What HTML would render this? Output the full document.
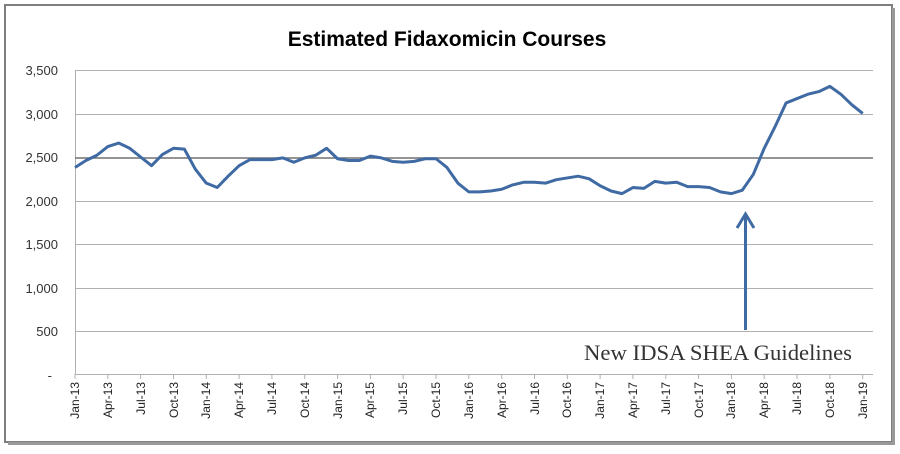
<!DOCTYPE html>
<html><head><meta charset="utf-8"><style>
body{margin:0;background:#fff;}
svg{display:block;}
</style></head><body>
<svg width="900" height="454" xmlns="http://www.w3.org/2000/svg">
<rect x="5" y="5" width="887" height="437" fill="#fff" stroke="#7f7f7f" stroke-width="2"/>
<rect x="892" y="8" width="3" height="436" fill="#999"/>
<rect x="8" y="442" width="887" height="3" fill="#999"/>
<text x="447" y="46" text-anchor="middle" font-family="Liberation Sans, sans-serif" font-weight="bold" font-size="21" fill="#000">Estimated Fidaxomicin Courses</text>
<g stroke="#b0b0b0" stroke-width="1">
<line x1="75" y1="70.5" x2="873" y2="70.5"/>
<line x1="75" y1="114.5" x2="873" y2="114.5"/>
<line x1="75" y1="201.5" x2="873" y2="201.5"/>
<line x1="75" y1="244.5" x2="873" y2="244.5"/>
<line x1="75" y1="288.5" x2="873" y2="288.5"/>
<line x1="75" y1="331.5" x2="873" y2="331.5"/>
<line x1="75.5" y1="70" x2="75.5" y2="375"/>
<line x1="75" y1="374.5" x2="873" y2="374.5"/>
</g>
<line x1="75" y1="158" x2="873" y2="158" stroke="#707070" stroke-width="1.5"/>
<g font-family="Liberation Sans, sans-serif" font-size="13" fill="#333" text-anchor="end">
<text x="58" y="75">3,500</text><text x="58" y="119">3,000</text><text x="58" y="162">2,500</text>
<text x="58" y="206">2,000</text><text x="58" y="249">1,500</text><text x="58" y="293">1,000</text>
<text x="58" y="336">500</text><text x="52" y="380">-</text>
</g>
<g stroke="#b0b0b0">
<line x1="75" y1="374" x2="75" y2="379"/><line x1="107.8" y1="374" x2="107.8" y2="379"/><line x1="140.6" y1="374" x2="140.6" y2="379"/><line x1="173.5" y1="374" x2="173.5" y2="379"/><line x1="206.3" y1="374" x2="206.3" y2="379"/><line x1="239.1" y1="374" x2="239.1" y2="379"/><line x1="271.9" y1="374" x2="271.9" y2="379"/><line x1="304.7" y1="374" x2="304.7" y2="379"/><line x1="337.6" y1="374" x2="337.6" y2="379"/><line x1="370.4" y1="374" x2="370.4" y2="379"/><line x1="403.2" y1="374" x2="403.2" y2="379"/><line x1="436" y1="374" x2="436" y2="379"/><line x1="468.8" y1="374" x2="468.8" y2="379"/><line x1="501.7" y1="374" x2="501.7" y2="379"/><line x1="534.5" y1="374" x2="534.5" y2="379"/><line x1="567.3" y1="374" x2="567.3" y2="379"/><line x1="600.1" y1="374" x2="600.1" y2="379"/><line x1="632.9" y1="374" x2="632.9" y2="379"/><line x1="665.8" y1="374" x2="665.8" y2="379"/><line x1="698.6" y1="374" x2="698.6" y2="379"/><line x1="731.4" y1="374" x2="731.4" y2="379"/><line x1="764.2" y1="374" x2="764.2" y2="379"/><line x1="797" y1="374" x2="797" y2="379"/><line x1="829.9" y1="374" x2="829.9" y2="379"/><line x1="862.7" y1="374" x2="862.7" y2="379"/>
</g>
<g font-family="Liberation Sans, sans-serif" font-size="12" fill="#222" text-anchor="end">
<text transform="translate(79,382) rotate(-90)">Jan-13</text>
<text transform="translate(112,382) rotate(-90)">Apr-13</text>
<text transform="translate(145,382) rotate(-90)">Jul-13</text>
<text transform="translate(178,382) rotate(-90)">Oct-13</text>
<text transform="translate(210,382) rotate(-90)">Jan-14</text>
<text transform="translate(243,382) rotate(-90)">Apr-14</text>
<text transform="translate(276,382) rotate(-90)">Jul-14</text>
<text transform="translate(309,382) rotate(-90)">Oct-14</text>
<text transform="translate(342,382) rotate(-90)">Jan-15</text>
<text transform="translate(374,382) rotate(-90)">Apr-15</text>
<text transform="translate(407,382) rotate(-90)">Jul-15</text>
<text transform="translate(440,382) rotate(-90)">Oct-15</text>
<text transform="translate(473,382) rotate(-90)">Jan-16</text>
<text transform="translate(506,382) rotate(-90)">Apr-16</text>
<text transform="translate(539,382) rotate(-90)">Jul-16</text>
<text transform="translate(571,382) rotate(-90)">Oct-16</text>
<text transform="translate(604,382) rotate(-90)">Jan-17</text>
<text transform="translate(637,382) rotate(-90)">Apr-17</text>
<text transform="translate(670,382) rotate(-90)">Jul-17</text>
<text transform="translate(703,382) rotate(-90)">Oct-17</text>
<text transform="translate(735,382) rotate(-90)">Jan-18</text>
<text transform="translate(768,382) rotate(-90)">Apr-18</text>
<text transform="translate(801,382) rotate(-90)">Jul-18</text>
<text transform="translate(834,382) rotate(-90)">Oct-18</text>
<text transform="translate(867,382) rotate(-90)">Jan-19</text>
</g>
<polyline transform="translate(75,375) scale(10.94,-0.0872)" vector-effect="non-scaling-stroke" fill="none" stroke="#3f6aa3" stroke-width="3" stroke-linejoin="round"
points="0,2380 1,2460 2,2520 3,2620 4,2660 5,2600 6,2500 7,2400 8,2530 9,2600 10,2590 11,2360 12,2200 13,2150 14,2280 15,2400 16,2470 17,2470 18,2470 19,2490 20,2440 21,2490 22,2520 23,2600 24,2480 25,2460 26,2460 27,2510 28,2490 29,2450 30,2440 31,2450 32,2480 33,2480 34,2380 35,2200 36,2100 37,2100 38,2110 39,2130 40,2180 41,2210 42,2210 43,2200 44,2240 45,2260 46,2280 47,2250 48,2170 49,2110 50,2080 51,2150 52,2140 53,2220 54,2200 55,2210 56,2160 57,2160 58,2150 59,2100 60,2080 61,2120 62,2300 63,2600 64,2850 65,3120 66,3170 67,3220 68,3250 69,3310 70,3220 71,3100 72,3000"/>
<line x1="745.5" y1="330" x2="745.5" y2="216" stroke="#3f6aa3" stroke-width="3"/>
<polyline points="737,228 745.5,214 754,228" fill="none" stroke="#3f6aa3" stroke-width="3"/>
<text x="584" y="360" font-family="Liberation Serif, serif" font-size="22" fill="#333" textLength="268" lengthAdjust="spacingAndGlyphs">New IDSA SHEA Guidelines</text>
</svg>
</body></html>
